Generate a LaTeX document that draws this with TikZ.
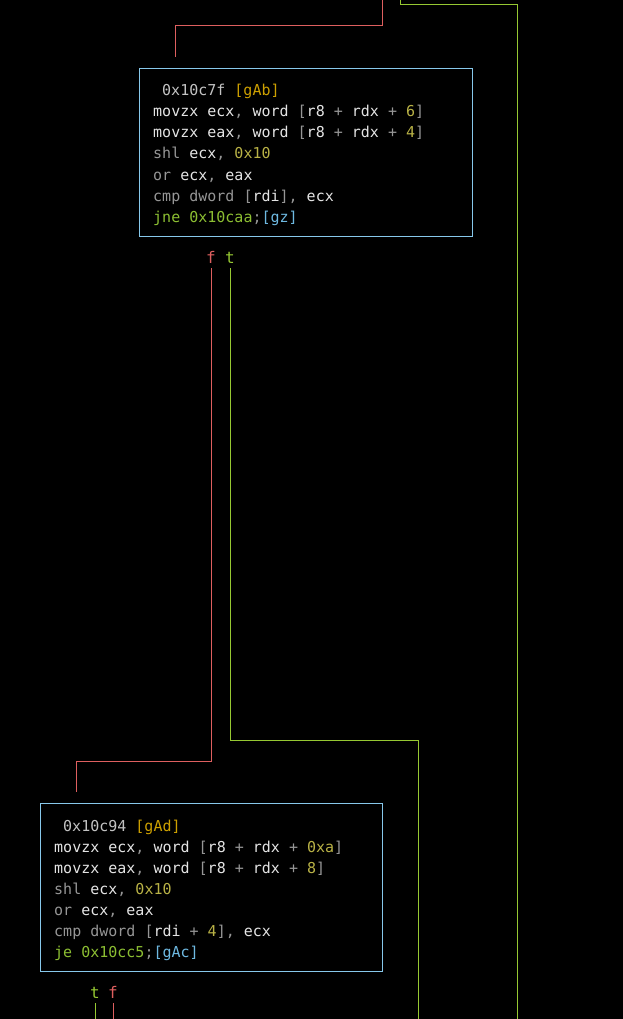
\documentclass[tikz,border=0pt]{standalone}
\usepackage{fontspec}
\setmainfont{DejaVu Sans Mono}
\definecolor{boxc}{RGB}{135,200,235}
\definecolor{txw}{RGB}{228,228,228}
\definecolor{txg}{RGB}{150,150,150}
\definecolor{txn}{RGB}{185,178,70}
\definecolor{txa}{RGB}{195,195,195}
\definecolor{txl}{RGB}{205,160,0}
\definecolor{txj}{RGB}{140,190,50}
\definecolor{txr}{RGB}{110,185,225}
\definecolor{edr}{RGB}{222,95,95}
\definecolor{edg}{RGB}{150,200,50}
\newcommand\Tw[1]{\textcolor{txw}{#1}}
\newcommand\Tg[1]{\textcolor{txg}{#1}}
\newcommand\Tn[1]{\textcolor{txn}{#1}}
\newcommand\Ta[1]{\textcolor{txa}{#1}}
\newcommand\Tl[1]{\textcolor{txl}{#1}}
\newcommand\Tj[1]{\textcolor{txj}{#1}}
\newcommand\Tr[1]{\textcolor{txr}{#1}}
\begin{document}
\begin{tikzpicture}[x=1pt,y=-1pt,
  every node/.style={font=\fontsize{15}{21}\selectfont},
  blk/.style={draw=boxc,line width=1pt,fill=black,inner sep=0pt},
  asm/.style={anchor=base west,inner sep=0pt},
  lab/.style={anchor=base,inner sep=0pt,font=\fontsize{16}{21}\selectfont},
  redge/.style={draw=edr,line width=1pt},
  gedge/.style={draw=edg,line width=1pt}]
\fill[black] (0,0) rectangle (623,1019);
\useasboundingbox (0,0) rectangle (623,1019);

% blocks
\node[blk,minimum width=333pt,minimum height=168pt] (b1) at (305.5,152.5) {};
\node[blk,minimum width=342pt,minimum height=168pt] (b2) at (211,887.5) {};

% block 1 text
\node[asm] (b1l0) at (162,96) {\Ta{0x10c7f} \Tl{[gAb]}};
\node[asm] (b1l1) at (153,117) {\Tw{movzx ecx}\Tg{,} \Tw{word} \Tg{[}\Tw{r8} \Tg{+} \Tw{rdx} \Tg{+} \Tn{6}\Tg{]}};
\node[asm] (b1l2) at (153,138) {\Tw{movzx eax}\Tg{,} \Tw{word} \Tg{[}\Tw{r8} \Tg{+} \Tw{rdx} \Tg{+} \Tn{4}\Tg{]}};
\node[asm] (b1l3) at (153,159) {\Tg{shl} \Tw{ecx}\Tg{,} \Tn{0x10}};
\node[asm] (b1l4) at (153,180) {\Tg{or} \Tw{ecx}\Tg{,} \Tw{eax}};
\node[asm] (b1l5) at (153,201) {\Tg{cmp dword [}\Tw{rdi}\Tg{]}\Tg{,} \Tw{ecx}};
\node[asm] (b1l6) at (153,222) {\Tj{jne 0x10caa}\Tg{;}\Tr{[gz]}};

% block 2 text
\node[asm] (b2l0) at (63,831) {\Ta{0x10c94} \Tl{[gAd]}};
\node[asm] (b2l1) at (54,852) {\Tw{movzx ecx}\Tg{,} \Tw{word} \Tg{[}\Tw{r8} \Tg{+} \Tw{rdx} \Tg{+} \Tn{0xa}\Tg{]}};
\node[asm] (b2l2) at (54,873) {\Tw{movzx eax}\Tg{,} \Tw{word} \Tg{[}\Tw{r8} \Tg{+} \Tw{rdx} \Tg{+} \Tn{8}\Tg{]}};
\node[asm] (b2l3) at (54,894) {\Tg{shl} \Tw{ecx}\Tg{,} \Tn{0x10}};
\node[asm] (b2l4) at (54,915) {\Tg{or} \Tw{ecx}\Tg{,} \Tw{eax}};
\node[asm] (b2l5) at (54,936) {\Tg{cmp dword [}\Tw{rdi} \Tg{+} \Tn{4}\Tg{]}\Tg{,} \Tw{ecx}};
\node[asm] (b2l6) at (54,957) {\Tj{je 0x10cc5}\Tg{;}\Tr{[gAc]}};

% branch labels
\node[lab,text=edr] (f1) at (211,263) {f};
\node[lab,text=edg] (t1) at (230,263) {t};
\node[lab,text=edg] (t2) at (95,998) {t};
\node[lab,text=edr] (f2) at (113,998) {f};

% coordinates
\coordinate (rtop) at (382,0);
\coordinate (gtop) at (400,0);
\coordinate (b1in) at (175,57);
\coordinate (b2in) at (76,792);
\coordinate (gout) at (517,1019);
\coordinate (gout2) at (418,1019);
\coordinate (t2out) at (95,1019);
\coordinate (f2out) at (113,1019);

% edges
\draw[redge] (rtop) -- ++(0,26) -| (b1in);
\draw[gedge] (gtop) -- ++(0,5) -| (gout);
\draw[redge] ([yshift=-5pt]f1.south) -- (f1.south |- 0,761) -| (b2in);
\draw[gedge] ([yshift=-5pt]t1.south) -- (t1.south |- 0,740) -| (gout2);
\draw[gedge] ([yshift=-5pt]t2.south) -- (t2out);
\draw[redge] ([yshift=-5pt]f2.south) -- (f2out);
\end{tikzpicture}
\end{document}
